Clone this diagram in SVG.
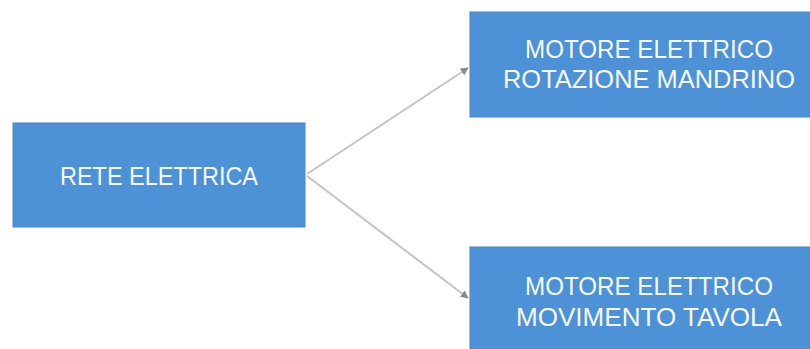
<svg xmlns="http://www.w3.org/2000/svg" width="810" height="349" viewBox="0 0 810 349">
<style>
.box{fill:#4d91d6;stroke:#4a86c0;stroke-width:1}
.lbl{font-family:"Liberation Sans",Arial,sans-serif;font-size:25px;fill:#f5f9fd;text-anchor:middle}
.conn{stroke:#c4c4c4;stroke-width:2;fill:none;marker-end:url(#arr)}
</style>
<defs>
<marker id="arr" viewBox="0 0 10 10" refX="9" refY="5" markerWidth="4" markerHeight="4" orient="auto" markerUnits="strokeWidth">
<path d="M0,0 L10,5 L0,10 z" fill="#8a8a8a"/>
</marker>
</defs>
<rect width="810" height="349" fill="#ffffff"/>
<g id="connectors">
<line class="conn" x1="307" y1="174" x2="468" y2="68"/>
<line class="conn" x1="307" y1="176" x2="468" y2="298"/>
</g>
<g id="rete">
<rect class="box" x="13" y="123" width="292" height="104"/>
<text class="lbl" x="159" y="185" textLength="198" lengthAdjust="spacingAndGlyphs">RETE ELETTRICA</text>
</g>
<g id="motore-mandrino">
<rect class="box" x="470" y="12" width="358" height="105"/>
<text class="lbl" x="649" y="58" textLength="248" lengthAdjust="spacingAndGlyphs">MOTORE ELETTRICO</text>
<text class="lbl" x="649" y="88" textLength="292" lengthAdjust="spacingAndGlyphs">ROTAZIONE MANDRINO</text>
</g>
<g id="motore-tavola">
<rect class="box" x="470" y="247" width="358" height="110"/>
<text class="lbl" x="649" y="295" textLength="248" lengthAdjust="spacingAndGlyphs">MOTORE ELETTRICO</text>
<text class="lbl" x="649" y="326" textLength="266" lengthAdjust="spacingAndGlyphs">MOVIMENTO TAVOLA</text>
</g>
</svg>
